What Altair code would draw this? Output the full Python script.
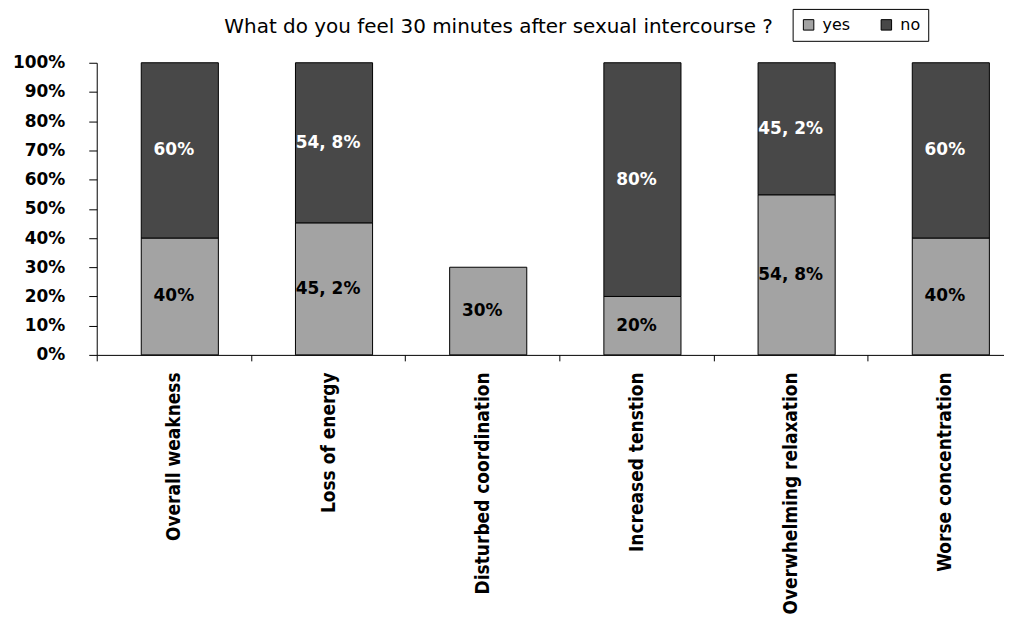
import altair as alt
import pandas as pd

categories = ["Overall weakness", "Loss of energy", "Disturbed coordination",
              "Increased tenstion", "Overwhelming relaxation", "Worse concentration"]
yes_values = [40, 45.2, 30, 20, 54.8, 40]
no_values = [60, 54.8, None, 80, 45.2, 60]
yes_labels = ["40%", "45, 2%", "30%", "20%", "54, 8%", "40%"]
no_labels = ["60%", "54, 8%", None, "80%", "45, 2%", "60%"]
series = ["yes", "no"]
colors = ["#a3a3a3", "#484848"]
y_ticks = [0, 10, 20, 30, 40, 50, 60, 70, 80, 90, 100]

rows = []
for i, c in enumerate(categories):
    rows.append(dict(cat=c, series="yes", ord=0, value=yes_values[i], label=yes_labels[i]))
    if no_values[i] is not None:
        rows.append(dict(cat=c, series="no", ord=1, value=no_values[i], label=no_labels[i]))
df = pd.DataFrame(rows)

base = alt.Chart(df).transform_stack(
    stack="value", groupby=["cat"],
    sort=[alt.SortField("ord", order="ascending")], as_=["v0", "v1"]
).transform_calculate(mid="(datum.v0 + datum.v1) / 2")

x_axis = alt.Axis(title=None, labelAngle=270, labelAlign="right", labelBaseline="middle",
                  labelFont="DejaVu Sans Condensed", labelFontSize=19, labelFontWeight="bold",
                  labelColor="black", tickBand="extent", tickSize=6, labelPadding=11,
                  domainColor="black", tickColor="black", labelLimit=400)
x_scale = alt.Scale(paddingInner=0, paddingOuter=0, range=[0, 928])

y_axis = alt.Axis(title=None, values=y_ticks, labelExpr="datum.value + '%'", grid=False,
                  tickSize=8, labelPadding=24, labelFontSize=17, labelFontWeight="bold",
                  labelFont="DejaVu Sans", labelColor="black", labelOverlap=False,
                  domainColor="black", tickColor="black")
y_scale = alt.Scale(domain=[0, 100], nice=False)

bars = base.mark_bar(width=alt.RelativeBandSize(0.5), stroke="black", strokeWidth=1).encode(
    x=alt.X("cat:N", sort=categories, scale=x_scale, axis=x_axis),
    xOffset=alt.value(6),
    y=alt.Y("v0:Q", scale=y_scale, axis=y_axis),
    y2="v1:Q",
    color=alt.Color("series:N", sort=series, scale=alt.Scale(domain=series, range=colors),
                    legend=alt.Legend(title=None, orient="none", legendX=698, legendY=-54,
                                      direction="horizontal", strokeColor="black", fillColor="white",
                                      padding=8, symbolType="square", symbolSize=110,
                                      symbolStrokeColor="black", symbolStrokeWidth=1,
                                      labelFontSize=16, labelFont="DejaVu Sans", labelColor="black",
                                      labelOffset=6, columnPadding=28)),
)

texts = base.mark_text(font="DejaVu Sans", fontWeight="bold", fontSize=17).encode(
    x=alt.X("cat:N", sort=categories, scale=x_scale, axis=x_axis),
    y=alt.Y("mid:Q", scale=y_scale, axis=y_axis),
    text="label:N",
    color=alt.condition(alt.datum.series == "no", alt.value("white"), alt.value("black")),
)

chart = alt.layer(bars, texts).properties(
    width=910, height=293,
    autosize=alt.AutoSizeParams(type="none"),
    padding={"left": 89, "top": 54, "right": 0, "bottom": 265},
    title=alt.TitleParams(text="What do you feel 30 minutes after sexual intercourse ?",
                          anchor="start", frame="group", dx=128, font="DejaVu Sans",
                          fontSize=20, fontWeight="normal", color="black", offset=-29),
).configure_view(stroke=None)

chart.save("out.html", embed_options={"renderer": "svg", "actions": False})
